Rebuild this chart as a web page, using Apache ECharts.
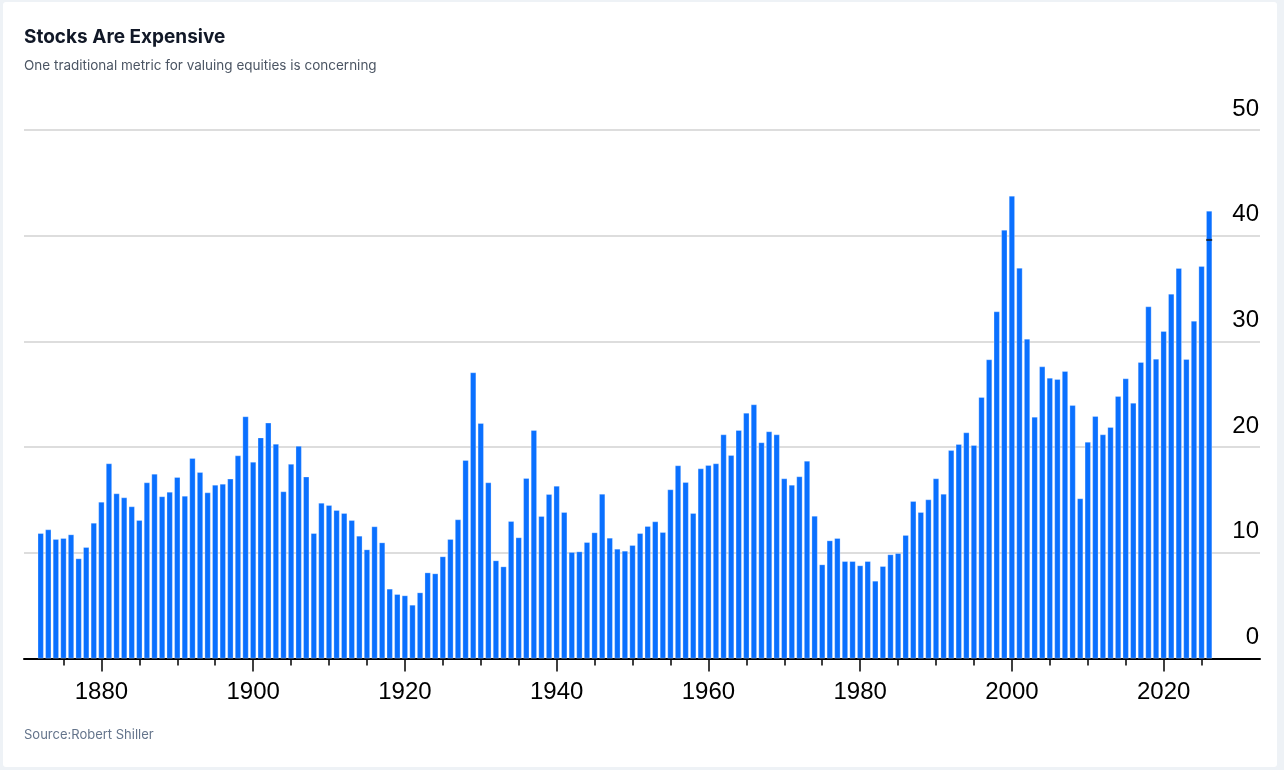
<!DOCTYPE html>
<html>
<head>
<meta charset="utf-8">
<title>Stocks Are Expensive</title>
<script src="https://cdn.jsdelivr.net/npm/echarts@6/dist/echarts.min.js"></script>
<style>
  html, body { margin: 0; padding: 0; background: #eef2f6; }
  #card { position: absolute; left: 3px; top: 2px; width: 1274px; height: 765px; background: #fff; border-radius: 3px; }
  #chart { position: absolute; left: 0; top: 0; width: 1284px; height: 770px; }
</style>
</head>
<body>
<div id="card"></div>
<div id="chart"></div>
<script>
// years shown as bars
const years = [
  1872, 1873, 1874, 1875, 1876, 1877, 1878, 1879, 1880,
  1881, 1882, 1883, 1884, 1885, 1886, 1887, 1888, 1889, 1890,
  1891, 1892, 1893, 1894, 1895, 1896, 1897, 1898, 1899, 1900,
  1901, 1902, 1903, 1904, 1905, 1906, 1907, 1908, 1909, 1910,
  1911, 1912, 1913, 1914, 1915, 1916, 1917, 1918, 1919, 1920,
  1921, 1922, 1923, 1924, 1925, 1926, 1927, 1928, 1929, 1930,
  1931, 1932, 1933, 1934, 1935, 1936, 1937, 1938, 1939, 1940,
  1941, 1942, 1943, 1944, 1945, 1946, 1947, 1948, 1949, 1950,
  1951, 1952, 1953, 1954, 1955, 1956, 1957, 1958, 1959, 1960,
  1961, 1962, 1963, 1964, 1965, 1966, 1967, 1968, 1969, 1970,
  1971, 1972, 1973, 1974, 1975, 1976, 1977, 1978, 1979, 1980,
  1981, 1982, 1983, 1984, 1985, 1986, 1987, 1988, 1989, 1990,
  1991, 1992, 1993, 1994, 1995, 1996, 1997, 1998, 1999, 2000,
  2001, 2002, 2003, 2004, 2005, 2006, 2007, 2008, 2009, 2010,
  2011, 2012, 2013, 2014, 2015, 2016, 2017, 2018, 2019, 2020,
  2021, 2022, 2023, 2024, 2025, 2026
];
// CAPE value per year
const cape = [
  11.85, 12.2, 11.29, 11.38, 11.73, 9.46, 10.53, 12.83, 14.82,
  18.45, 15.61, 15.23, 14.38, 13.08, 16.65, 17.47, 15.33, 15.76, 17.15,
  15.38, 18.95, 17.63, 15.7, 16.43, 16.52, 17.0, 19.2, 22.9, 18.6,
  20.9, 22.3, 20.3, 15.8, 18.4, 20.1, 17.2, 11.85, 14.72, 14.5,
  14.03, 13.75, 13.08, 11.6, 10.31, 12.49, 10.97, 6.59, 6.08, 5.96,
  5.07, 6.24, 8.13, 8.04, 9.65, 11.29, 13.15, 18.76, 27.06, 22.26,
  16.65, 9.27, 8.7, 12.99, 11.45, 17.06, 21.6, 13.46, 15.54, 16.33,
  13.84, 10.06, 10.12, 11.0, 11.92, 15.57, 11.41, 10.37, 10.18, 10.72,
  11.85, 12.52, 12.96, 11.95, 15.99, 18.26, 16.68, 13.75, 17.97, 18.29,
  18.45, 21.19, 19.23, 21.6, 23.24, 24.03, 20.44, 21.48, 21.19, 17.03,
  16.43, 17.22, 18.7, 13.49, 8.89, 11.16, 11.38, 9.2, 9.2, 8.8,
  9.2, 7.34, 8.73, 9.84, 9.96, 11.67, 14.88, 13.84, 15.04, 17.03,
  15.57, 19.7, 20.27, 21.38, 20.18, 24.72, 28.29, 32.83, 40.55, 43.77,
  36.95, 30.24, 22.86, 27.62, 26.55, 26.42, 27.18, 23.96, 15.14, 20.49,
  22.92, 21.19, 21.88, 24.81, 26.49, 24.18, 28.03, 33.3, 28.35, 30.97,
  34.5, 36.93, 28.32, 31.94, 37.11, 42.35
];
// small dark mark on the latest bar
const markYear = [2026];
const markValue = [39.6];

// axis ticks / labels
const labelYears = [1880, 1900, 1920, 1940, 1960, 1980, 2000, 2020];
const minorYears = [1875, 1885, 1890, 1895, 1905, 1910, 1915, 1925, 1930, 1935,
  1945, 1950, 1955, 1965, 1970, 1975, 1985, 1990, 1995, 2005, 2010, 2015, 2025];

const labelFont = 'Helvetica, Arial, "Liberation Sans", sans-serif';

const chart = echarts.init(document.getElementById('chart'));

chart.setOption({
  animation: false,
  title: [
    {
      text: 'Stocks Are Expensive',
      left: 24, top: 28, padding: 0,
      textStyle: { fontFamily: 'Inter', fontSize: 19, fontWeight: 'bold', color: '#111827' }
    },
    {
      text: 'One traditional metric for valuing equities is concerning',
      left: 24, top: 59, padding: 0,
      textStyle: { fontFamily: 'Inter', fontSize: 13.5, fontWeight: 'normal', color: '#4b5563' }
    },
    {
      text: 'Source:Robert Shiller',
      left: 24, top: 729, padding: 0,
      textStyle: { fontFamily: 'Inter', fontSize: 13, fontWeight: 'normal', color: '#64748b' }
    }
  ],
  grid: { left: 24, right: 24, top: 130, bottom: 111.5 },
  xAxis: [
    {
      type: 'value',
      min: 1869.8, max: 2032.7,
      axisLine: { show: true, lineStyle: { color: '#000', width: 2 } },
      axisTick: { show: true, customValues: labelYears, length: 13, lineStyle: { color: '#000', width: 1.5 } },
      axisLabel: {
        customValues: labelYears, margin: 22, fontSize: 24, color: '#000', fontFamily: labelFont,
        formatter: (v) => String(v)
      },
      splitLine: { show: false }
    },
    {
      type: 'value',
      min: 1869.8, max: 2032.7,
      position: 'bottom',
      axisLine: { show: false },
      axisTick: { show: true, customValues: minorYears, length: 7, lineStyle: { color: '#000', width: 1.5 } },
      axisLabel: { show: false },
      splitLine: { show: false }
    }
  ],
  yAxis: {
    type: 'value',
    position: 'right',
    min: 0, max: 50, interval: 10,
    axisLine: { show: false },
    axisTick: { show: false },
    axisLabel: {
      inside: true, margin: 1, fontSize: 24, color: '#000', fontFamily: labelFont,
      verticalAlign: 'bottom', padding: [0, 0, 9, 0]
    },
    splitLine: { show: true, lineStyle: { color: '#d2d2d2', width: 1.5 } }
  },
  series: [
    {
      type: 'bar',
      xAxisIndex: 0,
      barWidth: 6,
      data: years.map((y, i) => [y, cape[i]]),
      itemStyle: { color: '#0a70ff', borderColor: 'rgba(255,255,255,0.45)', borderWidth: 0.6 }
    },
    {
      type: 'scatter',
      xAxisIndex: 0,
      symbol: 'rect',
      symbolSize: [6, 2],
      z: 5,
      data: markYear.map((y, i) => [y, markValue[i]]),
      itemStyle: { color: '#1b1b1b' }
    }
  ]
});
</script>
</body>
</html>
